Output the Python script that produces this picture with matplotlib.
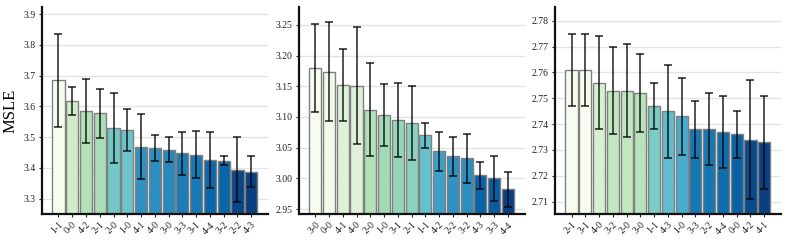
import numpy as np
import matplotlib
matplotlib.use("Agg")
import matplotlib.pyplot as plt
from matplotlib import cm
from matplotlib.colors import Normalize

# ── Data ──────────────────────────────────────────────────────
LABELS_A = ["1-1", "0-0", "4-2", "2-1", "2-0", "1-0", "4-1", "4-0",
            "3-0", "3-3", "3-1", "4-4", "3-2", "2-2", "4-3"]
MEAN_A = [3.685, 3.617, 3.585, 3.577, 3.530, 3.524, 3.469, 3.464,
          3.459, 3.447, 3.443, 3.426, 3.423, 3.394, 3.388]
ERR_A = [0.152, 0.046, 0.105, 0.080, 0.115, 0.068, 0.105, 0.043,
         0.040, 0.070, 0.077, 0.090, 0.015, 0.105, 0.049]

LABELS_B = ["3-0", "0-0", "4-1", "4-0", "2-0", "1-0", "3-1", "2-1",
            "1-1", "4-2", "2-2", "3-2", "4-3", "3-3", "4-4"]
MEAN_B = [3.180, 3.174, 3.152, 3.151, 3.112, 3.103, 3.095, 3.090,
          3.070, 3.044, 3.036, 3.033, 3.005, 3.000, 2.982]
ERR_B = [0.072, 0.080, 0.058, 0.095, 0.076, 0.050, 0.060, 0.060,
         0.020, 0.032, 0.032, 0.040, 0.022, 0.037, 0.028]

LABELS_C = ["2-1", "3-1", "4-0", "3-2", "2-0", "3-0", "1-1", "4-3",
            "1-0", "3-3", "2-2", "4-4", "0-0", "4-2", "4-1"]
MEAN_C = [2.761, 2.761, 2.756, 2.753, 2.753, 2.752, 2.747, 2.745,
          2.743, 2.738, 2.738, 2.737, 2.736, 2.734, 2.733]
ERR_C = [0.014, 0.014, 0.018, 0.017, 0.018, 0.015, 0.009, 0.018,
         0.015, 0.011, 0.014, 0.014, 0.009, 0.023, 0.018]

YTICKS_A = [3.3, 3.4, 3.5, 3.6, 3.7, 3.8, 3.9]
YTICKS_B = [2.95, 3.00, 3.05, 3.10, 3.15, 3.20, 3.25]
YTICKS_C = [2.71, 2.72, 2.73, 2.74, 2.75, 2.76, 2.77, 2.78]

plt.rcParams["font.family"] = ["Liberation Serif", "DejaVu Serif"]

fig = plt.figure(figsize=(7.89, 2.44), dpi=100)

panels = [
    (LABELS_A, MEAN_A, ERR_A, YTICKS_A, (3.25, 3.923), "%.1f", 0.0532),
    (LABELS_B, MEAN_B, ERR_B, YTICKS_B, (2.942, 3.279), "%.2f", 0.3786),
    (LABELS_C, MEAN_C, ERR_C, YTICKS_C, (2.7052, 2.7853), "%.2f", 0.7034),
]

for i, (labels, means, errs, yticks, ylim, fmt, left) in enumerate(panels):
    ax = fig.add_axes([left, 0.123, 0.287, 0.848])
    x = np.arange(len(labels))
    means = np.array(means)

    # colour by value: highest = lightest
    norm = Normalize(vmin=means.min(), vmax=means.max())
    colors = cm.GnBu(1.0 - norm(means))

    ax.bar(x, means, width=0.88, color=colors,
           edgecolor="#808080", linewidth=1.0, zorder=2)
    ax.errorbar(x, means, yerr=errs, fmt="none", ecolor="black",
                elinewidth=1.2, capsize=3, capthick=1.2,
                alpha=0.8, zorder=3)

    ax.set_xlim(-1.2, 15.25)
    ax.set_ylim(*ylim)
    ax.set_yticks(yticks)
    ax.set_yticklabels([fmt % t for t in yticks])
    ax.set_xticks(x)
    ax.set_xticklabels(labels, rotation=45, ha="right",
                       rotation_mode="anchor")
    ax.tick_params(axis="both", labelsize=7, length=2.5, width=0.8,
                   pad=2, colors="#222222")

    ax.grid(axis="y", color="#e3e3e3", linewidth=1.0, zorder=0)
    ax.set_axisbelow(True)
    for side in ["top", "right"]:
        ax.spines[side].set_visible(False)
    ax.spines["left"].set_linewidth(1.6)
    ax.spines["bottom"].set_linewidth(1.6)
    ax.spines["left"].set_color("#111111")
    ax.spines["bottom"].set_color("#111111")

    if i == 0:
        ax.set_ylabel("MSLE", fontsize=12)
        ax.yaxis.set_label_coords(-0.102, 0.5)

fig.savefig("out.png", dpi=100)
